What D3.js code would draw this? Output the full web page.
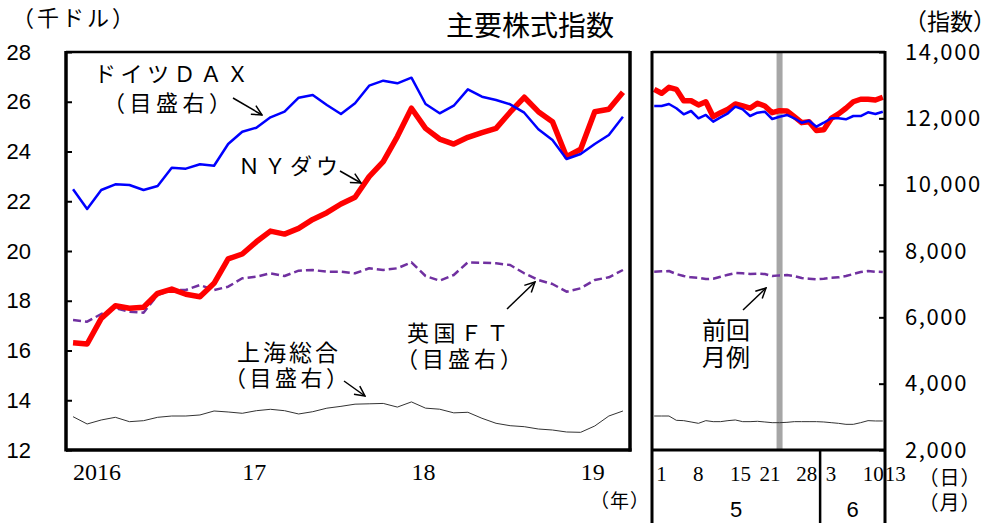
<!DOCTYPE html>
<html><head><meta charset="utf-8">
<script src="https://cdn.jsdelivr.net/npm/d3@7"></script>
<style>
html,body{margin:0;padding:0;background:#fff;}
svg{display:block;}
</style></head>
<body><svg id="c" width="997" height="523"></svg>
<script>
// ---------- data ----------
const months = [];
for (let y = 2016; y <= 2019; y++) for (let m = 1; m <= 12; m++) { if (y === 2019 && m > 4) break; months.push(y + "/" + m); }
const yearLabels = ["2016", "17", "18", "19"];
const yearLabelMonths = ["2016/1", "2017/1", "2018/1", "2019/1"];

// NY Dow (thousand dollars, left axis)
const nyDow = [16.31,16.26,17.29,17.80,17.70,17.74,18.30,18.47,18.26,18.16,18.70,19.68,19.88,20.37,20.80,20.68,20.91,21.27,21.54,21.89,22.16,22.99,23.59,24.60,25.74,24.93,24.50,24.30,24.57,24.76,24.93,25.58,26.18,25.60,25.20,23.79,24.09,25.60,25.70,26.38];
// DAX (index, right axis)
const dax = [9860,9266,9839,10011,9990,9839,9960,10512,10482,10614,10572,11226,11597,11718,12031,12200,12622,12704,12402,12131,12453,12984,13135,13056,13225,12432,12152,12381,12875,12652,12553,12423,12170,11669,11347,10774,10925,11226,11498,12049];
// FT (index, right axis)
const ft = [5920,5869,6101,6272,6170,6140,6674,6824,6824,6975,6824,6924,7177,7225,7328,7246,7406,7427,7376,7376,7328,7479,7427,7479,7659,7246,7105,7277,7659,7647,7629,7578,7328,7126,7005,6773,6876,7126,7207,7427];
// Shanghai composite (index, right axis)
const shanghai = [3004,2784,2905,2986,2854,2884,2986,3025,3025,3056,3176,3146,3107,3185,3227,3185,3086,3155,3261,3316,3382,3393,3404,3294,3450,3262,3230,3120,3137,2956,2805,2733,2703,2633,2603,2543,2533,2724,3025,3176];

// daily panel (May 1 - Jun 13, 2019)
const days = ["5/1","5/2","5/3","5/6","5/7","5/8","5/9","5/10","5/13","5/14","5/15","5/16","5/17","5/20","5/21","5/22","5/23","5/24","5/27","5/28","5/29","5/30","5/31","6/3","6/4","6/5","6/6","6/7","6/10","6/11","6/12","6/13"];
const dayTickDays = ["5/1","5/8","5/15","5/21","5/28","6/3","6/10","6/13"];
const dayTickLabels = ["1","8","15","21","28","3","10","13"];
const monthLabels = ["5","6"];
const prevReportDay = "5/24";
const nyDowD = [26.50,26.34,26.58,26.50,26.04,26.04,25.87,26.00,25.40,25.56,25.70,25.91,25.83,25.74,25.94,25.83,25.56,25.64,25.63,25.40,25.16,25.20,24.84,24.87,25.33,25.51,25.74,26.00,26.10,26.10,26.07,26.18];
const daxD = [12372,12372,12432,12303,12122,12221,12001,12101,11899,12031,12152,12351,12272,12070,12170,12200,11980,12049,12101,12001,11868,11929,11748,11868,12001,12001,11971,12070,12070,12182,12131,12200];
const ftD = [7376,7386,7396,7306,7245,7205,7195,7155,7165,7225,7285,7336,7326,7306,7316,7306,7245,7265,7275,7245,7185,7165,7145,7165,7195,7205,7245,7306,7366,7396,7376,7366];
const shanghaiD = [3025,3025,3025,2895,2885,2845,2804,2885,2855,2855,2885,2905,2855,2855,2865,2845,2824,2824,2834,2855,2855,2855,2855,2845,2824,2804,2774,2774,2824,2885,2875,2875];

const leftTicks = [12,14,16,18,20,22,24,26,28];
const rightTicks = [2000,4000,6000,8000,10000,12000,14000];

// ---------- layout ----------
const svg = d3.select("#c");
const T = 52, B = 450;
const L1 = 66, R1 = 630, L2 = 652, R2 = 885, Bt = 523;

const yL = d3.scaleLinear().domain([12, 28]).range([B, T]);
const yR = d3.scaleLinear().domain([2000, 14000]).range([B, T]);
const xL = d3.scalePoint().domain(months).range([L1, R1]).padding(0.5);
const xR = d3.scalePoint().domain(days).range([L2, R2]).padding(0.3);

const jp = "'Noto Sans CJK JP','Noto Sans',sans-serif";

// gray vertical line (previous monthly report)
svg.append("line").attr("x1", xR(prevReportDay)).attr("x2", xR(prevReportDay))
  .attr("y1", T).attr("y2", B).attr("stroke", "#a6a6a6").attr("stroke-width", 6);

// ---------- series ----------
function drawSeries(x, dom, vals, y, color, width, dash) {
  const ln = d3.line().x((d, i) => x(dom[i])).y(d => y(d));
  const p = svg.append("path").datum(vals).attr("d", ln).attr("fill", "none")
    .attr("stroke", color).attr("stroke-width", width).attr("stroke-linejoin", "round");
  if (dash) p.attr("stroke-dasharray", dash);
}
drawSeries(xL, months, shanghai, yR, "#333", 1, null);
drawSeries(xL, months, ft, yR, "#7030a0", 2.5, "8,4");
drawSeries(xL, months, nyDow, yL, "#ff0000", 5.5, null);
drawSeries(xL, months, dax, yR, "#0000ff", 2.5, null);

drawSeries(xR, days, shanghaiD, yR, "#333", 1, null);
drawSeries(xR, days, ftD, yR, "#7030a0", 2.5, "8,4");
drawSeries(xR, days, nyDowD, yL, "#ff0000", 5.5, null);
drawSeries(xR, days, daxD, yR, "#0000ff", 2.5, null);

// ---------- frames ----------
function ln(x1, y1, x2, y2, w) {
  svg.append("line").attr("x1", x1).attr("y1", y1).attr("x2", x2).attr("y2", y2)
    .attr("stroke", "#000").attr("stroke-width", w);
}
ln(L1, T, R1, T, 2.5);
ln(L1, B, R1 + 1.5, B, 3.5);
ln(L1, T - 1, L1, B + 1.5, 3.5);
ln(R1, T - 1, R1, B + 1.5, 3.5);
ln(L2, T, R2, T, 2.5);
ln(L2, B, R2, B, 3);
ln(L2, T - 1, L2, Bt, 3);
ln(R2, T - 1, R2, Bt, 3);
const sep = (xR("5/31") + xR("6/3")) / 2;
ln(sep, B, sep, Bt, 2.5);

// ---------- axes ----------
const axL = svg.append("g").attr("transform", `translate(${L1},0)`)
  .call(d3.axisLeft(yL).tickValues(leftTicks).tickSize(-6).tickPadding(35).tickFormat(d3.format("d")));
axL.select(".domain").remove();
axL.selectAll("line").attr("stroke-width", 2);
axL.selectAll("text").attr("font-family", "'Liberation Sans',Arial,sans-serif").attr("font-size", 22).attr("fill", "#000");

const axR = svg.append("g").attr("transform", `translate(${R2},0)`)
  .call(d3.axisRight(yR).tickValues(rightTicks).tickSize(-6).tickPadding(20).tickFormat(d3.format(",")));
axR.select(".domain").remove();
axR.selectAll("line").attr("stroke-width", 2);
axR.selectAll("text").attr("font-family", jp).attr("font-size", 22).attr("letter-spacing", 1.6).attr("fill", "#000");

// year labels
svg.selectAll(".yl").data(yearLabels).enter().append("text")
  .attr("x", (d, i) => xL(yearLabelMonths[i])).attr("y", 480)
  .attr("font-family", "'Liberation Serif','Times New Roman',serif").attr("font-size", 24)
  .text(d => d);

// day labels
svg.selectAll(".dl").data(dayTickLabels).enter().append("text")
  .attr("x", (d, i) => xR(dayTickDays[i]) + 2).attr("y", 481)
  .attr("font-family", "'Liberation Serif','Times New Roman',serif").attr("font-size", 21)
  .text(d => d);

// month labels
const monthCenters = [(L2 + sep) / 2, (sep + R2) / 2];
svg.selectAll(".ml").data(monthLabels).enter().append("text")
  .attr("x", (d, i) => monthCenters[i]).attr("y", 517).attr("text-anchor", "middle")
  .attr("font-family", "'Liberation Sans',Arial,sans-serif").attr("font-size", 22)
  .text(d => d);

// ---------- texts ----------
function txt(s, x, y, size, opts = {}) {
  const t = svg.append("text").attr("x", x).attr("y", y).attr("font-family", opts.font || jp)
    .attr("font-size", size).attr("fill", "#000").text(s);
  if (opts.anchor) t.attr("text-anchor", opts.anchor);
  if (opts.ls) t.attr("letter-spacing", opts.ls);
  return t;
}
txt("主要株式指数", 530, 36, 28, { anchor: "middle" });
txt("（千ドル）", 12, 26, 22, { ls: 3 });
txt("（指数）", 904, 30, 23);
txt("（年）", 620, 508, 19, { anchor: "middle", ls: 1 });
txt("（日）", 950, 485, 20, { anchor: "middle", ls: 1 });
txt("（月）", 950, 510, 20, { anchor: "middle", ls: 1 });

txt("ドイツＤＡＸ", 94, 82, 22, { ls: 4.5 });
txt("（目盛右）", 103, 111, 22, { ls: 4.5 });
txt("ＮＹダウ", 238, 174, 22, { ls: 4 });
txt("英国ＦＴ", 407, 341, 22, { ls: 4.5 });
txt("（目盛右）", 396, 367, 22, { ls: 4 });
txt("上海総合", 237, 361, 23, { ls: 3 });
txt("（目盛右）", 224, 386, 22, { ls: 3.5 });
txt("前回", 702, 339, 24);
txt("月例", 702, 366, 24);

// arrows
const defs = svg.append("defs");
defs.append("marker").attr("id", "ah").attr("viewBox", "0 0 12 12").attr("refX", 11).attr("refY", 6)
  .attr("markerWidth", 12).attr("markerHeight", 12).attr("markerUnits", "userSpaceOnUse").attr("orient", "auto")
  .append("path").attr("d", "M1,1 L11,6 L1,11").attr("fill", "none").attr("stroke", "#000").attr("stroke-width", 1.5);
function arrow(x1, y1, x2, y2) {
  svg.append("line").attr("x1", x1).attr("y1", y1).attr("x2", x2).attr("y2", y2)
    .attr("stroke", "#000").attr("stroke-width", 1.5).attr("marker-end", "url(#ah)");
}
arrow(233, 98, 262, 115);
arrow(340, 171, 361, 183);
arrow(507, 309, 535, 282);
arrow(344, 381, 365, 396);
arrow(743, 310, 766, 288);
</script></body></html>
